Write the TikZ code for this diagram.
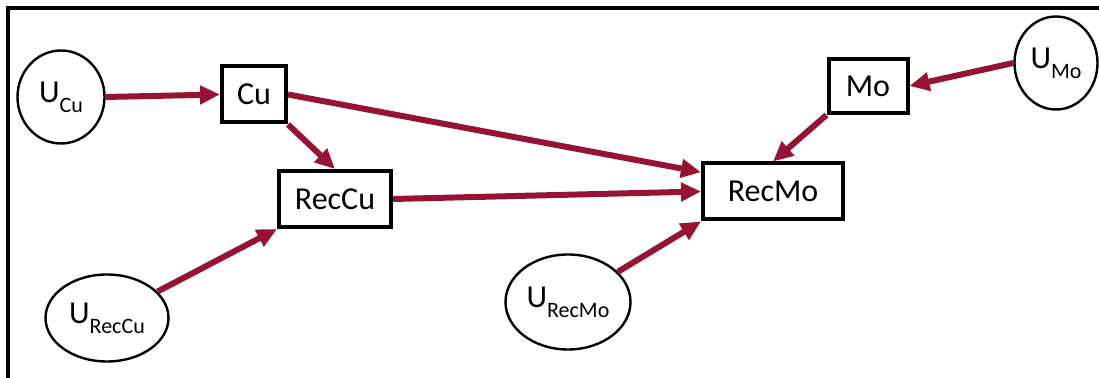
\documentclass[tikz,border=0pt]{standalone}
\usepackage{fontspec}
\setmainfont{Carlito}
\usepackage{xcolor}
\usetikzlibrary{arrows.meta, shapes.geometric}

\definecolor{linkred}{RGB}{150,20,50}
\newcommand{\lowsub}[1]{\raisebox{-5pt}{\fontsize{11}{13}\selectfont #1}}

\begin{document}
\begin{tikzpicture}[x=0.5pt,y=-0.5pt,>={Triangle[length=10pt,width=9pt]},
                    font=\fontsize{16}{19}\selectfont]
  \tikzstyle{var}=[draw,rectangle,line width=2pt,minimum height=28pt,inner sep=0pt]
  \tikzstyle{noise}=[draw,ellipse,line width=1.2pt,inner sep=0pt]
  \tikzstyle{link}=[->,draw=linkred,line width=3pt]

  \useasboundingbox (0,0) rectangle (1099,378);
  \clip (0,0) rectangle (1099,378);
  \draw[line width=2pt] (8,8) rectangle (1130,400);

  \node[noise,minimum width=43.5pt,minimum height=46.5pt] (UCu) at (61,97) {U\lowsub{Cu}};
  \node[var,minimum width=32pt]         (Cu)     at (254,94.5)  {Cu};
  \node[var,minimum width=56pt]         (RecCu)  at (335,199)   {RecCu};
  \node[noise,minimum width=61.5pt,minimum height=43.5pt] (URecCu) at (107,318) {U\lowsub{RecCu}};
  \node[var,minimum width=70pt]         (RecMo)  at (773,191.5) {RecMo};
  \node[noise,minimum width=62.5pt,minimum height=47.5pt] (URecMo) at (568,302) {U\lowsub{RecMo}};
  \node[var,minimum width=39.5pt,minimum height=27pt] (Mo) at (868,86) {Mo};
  \node[noise,minimum width=41.5pt,minimum height=46.5pt] (UMo) at (1056,63) {U\lowsub{Mo}};

  \path (UCu.east)       edge [link] (Cu.west)
        (Cu.south east)  edge [link] (RecCu.north)
        (Cu.east)        edge [link] (RecMo.165)
        (RecCu.east)     edge [link] (RecMo.west)
        (URecCu)         edge [link] (RecCu.south west)
        (URecMo)         edge [link] (RecMo.south west)
        (Mo.south west)  edge [link] (RecMo.north)
        (UMo.west)       edge [link] (Mo.east);
\end{tikzpicture}
\end{document}
